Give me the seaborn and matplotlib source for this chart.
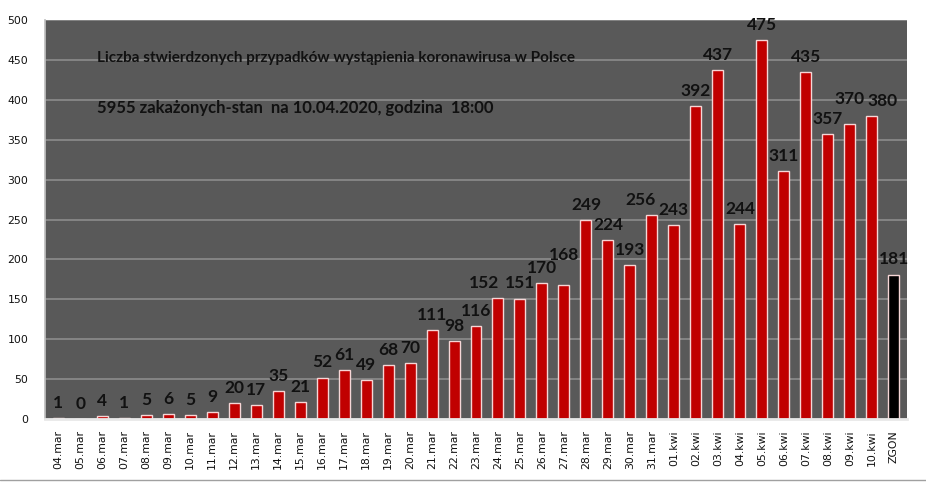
import matplotlib
matplotlib.use("Agg")
import matplotlib.pyplot as plt
import seaborn as sns

dates = ["04.mar", "05.mar", "06.mar", "07.mar", "08.mar", "09.mar", "10.mar", "11.mar",
         "12.mar", "13.mar", "14.mar", "15.mar", "16.mar", "17.mar", "18.mar", "19.mar",
         "20.mar", "21.mar", "22.mar", "23.mar", "24.mar", "25.mar", "26.mar", "27.mar",
         "28.mar", "29.mar", "30.mar", "31.mar", "01.kwi", "02.kwi", "03.kwi", "04.kwi",
         "05.kwi", "06.kwi", "07.kwi", "08.kwi", "09.kwi", "10.kwi", "ZGON"]
values = [1, 0, 4, 1, 5, 6, 5, 9, 20, 17, 35, 21, 52, 61, 49, 68, 70, 111, 98, 116,
          152, 151, 170, 168, 249, 224, 193, 256, 243, 392, 437, 244, 475, 311, 435,
          357, 370, 380, 181]
yticks = [0, 50, 100, 150, 200, 250, 300, 350, 400, 450, 500]
title1 = "Liczba stwierdzonych przypadków wystąpienia koronawirusa w Polsce"
title2 = "5955 zakażonych-stan  na 10.04.2020, godzina  18:00"

sns.set_theme(style="white")
plt.rcParams['font.family'] = ['DejaVu Sans']

colors = {d: ("#000000" if d == "ZGON" else "#C00000") for d in dates}

# label nudges (as placed in the original to avoid collisions): index -> (dx, dy)
label_nudge = {20: (-0.65, 0), 23: (0, 18), 27: (-0.5, 0), 36: (0, 12), 37: (0.5, 0)}

fig = plt.figure(figsize=(9.26, 4.82), dpi=100)
ax = fig.add_axes([45/926, 1-419/482, (907-45)/926, (419-20)/482])
ax.set_facecolor("#595959")
ax.set_axisbelow(True)
ax.yaxis.grid(True, color="#8c8c8c", linewidth=1.2)

sns.barplot(x=dates, y=values, hue=dates, palette=colors, legend=False, saturation=1,
            width=0.5, edgecolor="#f6d6d6", linewidth=1.0, ax=ax)

for i, v in enumerate(values):
    dx, dy = label_nudge.get(i, (0, 0))
    ax.text(i + dx, v + 9 + dy, str(v), ha="center", va="bottom", fontsize=12.5,
            fontweight="bold", family="Lato", color="#111111")

ax.set_ylim(0, 500)
ax.set_xlim(-0.6, len(dates) - 0.4)
ax.set_yticks(yticks)
ax.set_yticklabels([str(t) for t in yticks], fontsize=7.8, color="#111111")
ax.set_xticks(range(len(dates)))
ax.set_xticklabels(dates, rotation=90, fontsize=7.8, color="#111111")
ax.tick_params(axis="y", length=0, pad=12)
ax.tick_params(axis="x", length=0, pad=8)
ax.set_xlabel("")
ax.set_ylabel("")

for s in ["top", "right"]:
    ax.spines[s].set_visible(False)
ax.spines["left"].set_color("#bfbfbf")
ax.spines["bottom"].set_color("#e8e8e8")
ax.spines["bottom"].set_linewidth(2)

fig.text(97/926, 1-58/482, title1, fontsize=11, fontweight="bold",
         family="Lato", color="#111111", va="center", ha="left")
fig.text(97/926, 1-108/482, title2, fontsize=12, fontweight="bold",
         family="Lato", color="#111111", va="center", ha="left")

fig.add_artist(plt.Line2D([0, 1], [1-480/482, 1-480/482], transform=fig.transFigure,
                          color="#a0a0a0", linewidth=1))

fig.savefig("out.png", dpi=100)
